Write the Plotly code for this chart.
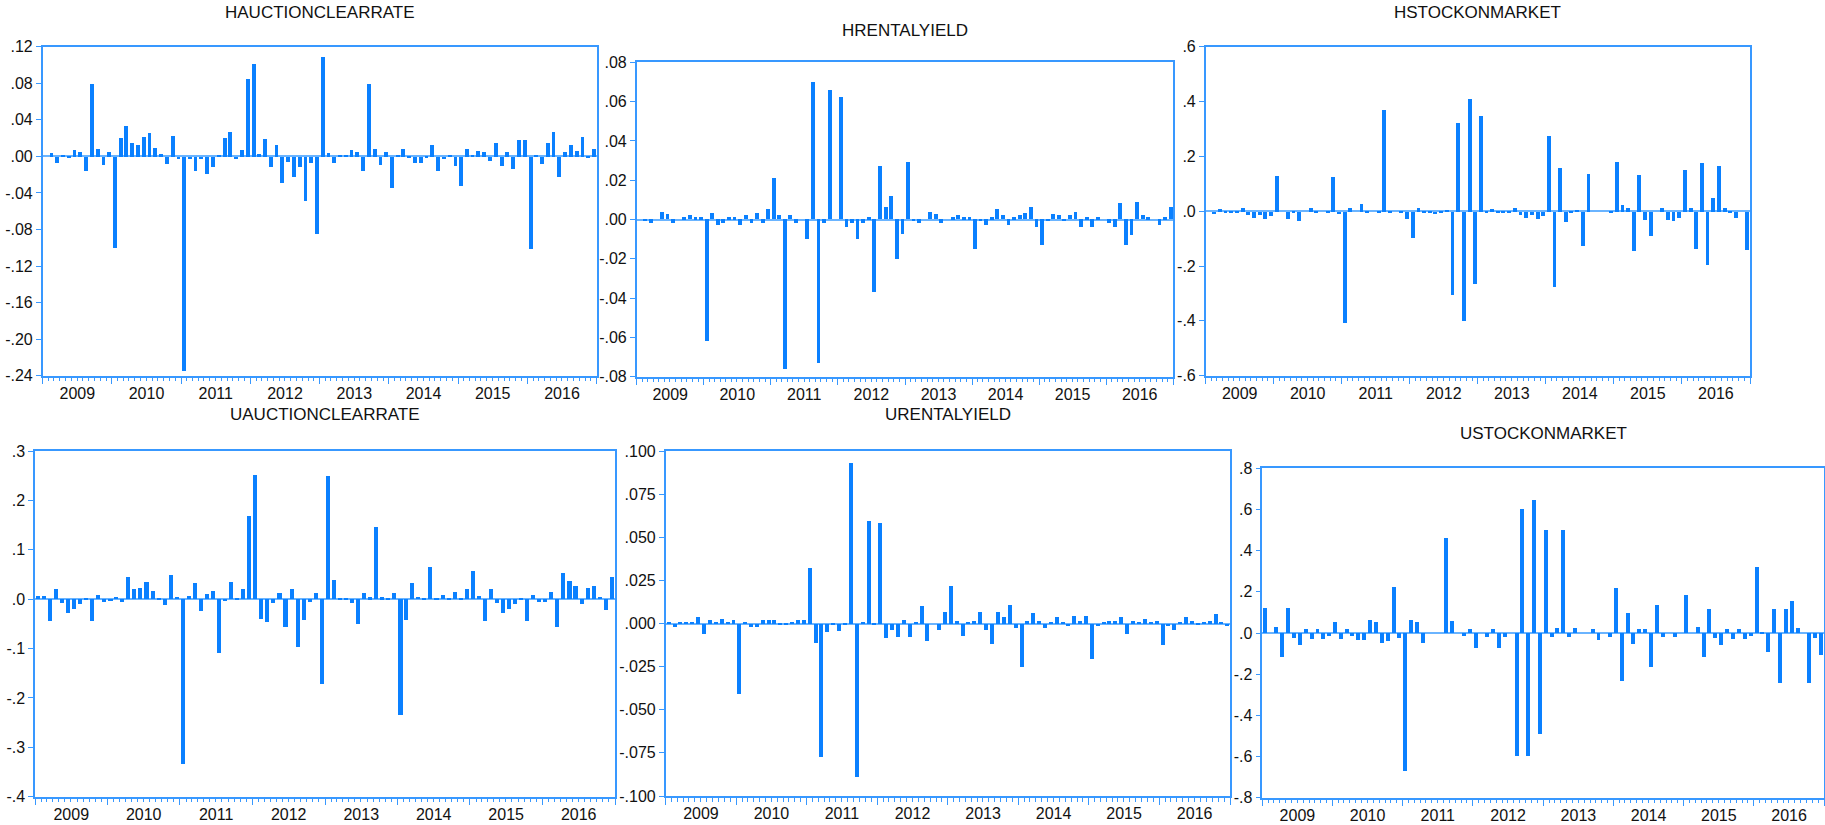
import pandas as pd
import plotly.graph_objects as go

# Monthly changes, Jan 2009 - Dec 2016 (None = no observation)
months = pd.date_range("2009-01-01", periods=96, freq="MS").strftime("%Y-%m-%d").tolist()

hauction = [None, 0.004, -0.007, 0.001, -0.001, 0.007, 0.005, -0.016, 0.079, 0.008, -0.009, 0.005,
            -0.100, 0.020, 0.034, 0.015, 0.013, 0.022, 0.026, 0.009, 0.003, -0.008, 0.023, -0.003,
            -0.235, -0.003, -0.016, -0.003, -0.019, -0.011, 0.002, 0.020, 0.027, -0.003, 0.007, 0.085,
            0.101, 0.003, 0.019, -0.011, 0.013, -0.029, -0.006, -0.022, -0.011, -0.048, -0.007, -0.085,
            0.109, 0.004, -0.007, 0.001, 0.001, 0.007, 0.005, -0.016, 0.079, 0.008, -0.009, 0.005,
            -0.034, 0.001, 0.008, -0.002, -0.007, -0.007, -0.002, 0.013, -0.016, -0.003, 0.001, -0.010,
            -0.032, 0.008, 0.001, 0.006, 0.005, -0.005, 0.015, -0.010, 0.005, -0.014, 0.018, 0.018,
            -0.101, 0.001, -0.008, 0.015, 0.027, -0.022, 0.005, 0.013, 0.006, 0.022, -0.002, 0.008]

hrental = [None, -0.001, -0.002, 0.0, 0.0035, 0.0025, -0.002, 0.0, 0.001, 0.002, 0.001, 0.001,
           -0.062, 0.003, -0.003, -0.002, 0.001, 0.001, -0.003, 0.002, -0.002, 0.003, -0.002, 0.005,
           0.021, 0.002, -0.076, 0.002, -0.002, 0.0, -0.010, 0.070, -0.073, -0.002, 0.066, 0.0,
           0.062, -0.004, -0.002, -0.010, -0.002, 0.001, -0.037, 0.027, 0.006, 0.012, -0.020, -0.0076,
           0.029, -0.001, -0.002, 0.0, 0.0035, 0.0025, -0.002, 0.0, 0.001, 0.002, 0.001, 0.001,
           -0.015, -0.001, -0.003, 0.001, 0.005, 0.002, -0.003, 0.001, 0.002, 0.003, 0.006, -0.004,
           -0.013, -0.001, 0.0025, 0.002, -0.001, 0.002, 0.0035, -0.004, 0.001, -0.004, 0.001, 0.0,
           -0.002, -0.004, 0.008, -0.013, -0.008, 0.009, 0.002, 0.001, 0.0, -0.003, 0.001, 0.006]

hstock = [None, -0.008, 0.010, -0.007, -0.004, -0.007, 0.011, -0.012, -0.022, -0.012, -0.028, -0.015,
          0.129, 0.0, -0.027, -0.007, -0.033, 0.0, 0.011, -0.007, 0.0, -0.007, 0.126, -0.010,
          -0.405, 0.011, 0.0, 0.028, -0.007, 0.0, -0.007, 0.370, -0.007, 0.0, -0.004, -0.027,
          -0.097, 0.012, -0.004, -0.004, -0.010, -0.004, 0.007, -0.305, 0.322, -0.399, 0.412, -0.263,
          0.348, -0.007, 0.010, -0.007, -0.004, -0.007, 0.011, -0.012, -0.022, -0.012, -0.028, -0.015,
          0.275, -0.276, 0.158, -0.040, -0.002, 0.006, -0.125, 0.136, 0.0, 0.0, 0.0, -0.006,
          0.180, 0.022, 0.012, -0.145, 0.133, -0.032, -0.088, 0.0, 0.012, -0.032, -0.033, -0.023,
          0.150, 0.013, -0.137, 0.177, -0.194, 0.049, 0.165, 0.012, -0.004, -0.022, 0.0, -0.140]

uauction = [0.007, 0.007, -0.045, 0.020, -0.008, -0.028, -0.019, -0.009, 0.001, -0.045, 0.008, -0.005,
            -0.003, 0.005, -0.005, 0.045, 0.020, 0.022, 0.034, 0.016, 0.001, -0.011, 0.049, 0.005,
            -0.334, 0.007, 0.033, -0.023, 0.010, 0.017, -0.109, -0.003, 0.034, 0.001, 0.021, 0.169,
            0.252, -0.041, -0.046, -0.007, 0.012, -0.057, 0.021, -0.096, -0.043, -0.006, 0.012, -0.172,
            0.250, 0.038, 0.001, 0.001, -0.007, -0.051, 0.013, 0.004, 0.147, 0.004, 0.003, 0.012,
            -0.235, -0.043, 0.032, 0.005, 0.001, 0.066, 0.001, 0.009, 0.003, 0.015, 0.001, 0.021,
            0.057, 0.007, -0.045, 0.021, -0.008, -0.028, -0.019, -0.009, 0.001, -0.045, 0.009, -0.005,
            -0.005, 0.015, -0.057, 0.053, 0.036, 0.027, -0.009, 0.022, 0.026, 0.005, -0.022, 0.045]

urental = [0.001, -0.002, 0.0005, 0.001, 0.001, 0.0035, -0.006, 0.002, 0.0005, 0.0027, 0.0005, 0.002,
           -0.041, 0.001, -0.002, -0.002, 0.002, 0.002, 0.002, -0.001, -0.001, 0.001, 0.002, 0.002,
           0.032, -0.0115, -0.0775, -0.005, -0.001, -0.0045, -0.001, 0.093, -0.0887, 0.001, 0.0597, -0.001,
           0.058, -0.0085, -0.0037, -0.008, 0.002, -0.008, 0.001, 0.010, -0.010, 0.0, -0.0037, 0.0064,
           0.022, 0.0017, -0.0075, 0.0008, 0.0015, 0.0068, -0.0037, -0.012, 0.0068, 0.0037, 0.0108, -0.0027,
           -0.0255, 0.0017, 0.0062, 0.0017, -0.0027, 0.001, 0.0037, 0.001, -0.0017, 0.0044, 0.0017, 0.0044,
           -0.0203, -0.0017, 0.001, 0.0017, 0.0017, 0.0037, -0.0062, 0.0017, 0.001, 0.0027, 0.001, 0.0017,
           -0.0124, -0.0017, -0.0037, 0.001, 0.0037, 0.0017, -0.001, 0.001, 0.0017, 0.0054, 0.001, -0.0017]

ustock = [0.118, 0.0, 0.029, -0.117, 0.118, -0.028, -0.058, 0.018, -0.031, 0.019, -0.032, -0.016,
          0.052, -0.031, 0.018, -0.016, -0.034, -0.034, 0.060, 0.053, -0.052, -0.039, 0.223, -0.026,
          -0.672, 0.060, 0.053, -0.052, 0.0, 0.0, 0.0, 0.460, 0.055, 0.0, -0.016, 0.019,
          -0.074, 0.0, -0.023, 0.019, -0.074, -0.023, 0.0, -0.600, 0.602, -0.600, 0.645, -0.494,
          0.497, -0.021, 0.023, 0.497, -0.021, 0.023, 0.0, 0.0, 0.019, -0.036, 0.0, -0.021,
          0.215, -0.235, 0.094, -0.053, 0.019, 0.019, -0.167, 0.133, -0.021, 0.0, -0.021, 0.0,
          0.185, 0.0, 0.029, -0.117, 0.117, -0.028, -0.058, 0.018, -0.031, 0.018, -0.032, -0.016,
          0.319, -0.008, -0.096, 0.113, -0.246, 0.117, 0.152, 0.024, 0.0, -0.243, -0.028, -0.110]

titles = ["HAUCTIONCLEARRATE", "HRENTALYIELD", "HSTOCKONMARKET",
          "UAUCTIONCLEARRATE", "URENTALYIELD", "USTOCKONMARKET"]

# y-axis ticks and their labels, top to bottom
yticks_hauction = [0.12, 0.08, 0.04, 0.0, -0.04, -0.08, -0.12, -0.16, -0.20, -0.24]
ylabels_hauction = [".12", ".08", ".04", ".00", "-.04", "-.08", "-.12", "-.16", "-.20", "-.24"]
yticks_hrental = [0.08, 0.06, 0.04, 0.02, 0.0, -0.02, -0.04, -0.06, -0.08]
ylabels_hrental = [".08", ".06", ".04", ".02", ".00", "-.02", "-.04", "-.06", "-.08"]
yticks_hstock = [0.6, 0.4, 0.2, 0.0, -0.2, -0.4, -0.6]
ylabels_hstock = [".6", ".4", ".2", ".0", "-.2", "-.4", "-.6"]
yticks_uauction = [0.3, 0.2, 0.1, 0.0, -0.1, -0.2, -0.3, -0.4]
ylabels_uauction = [".3", ".2", ".1", ".0", "-.1", "-.2", "-.3", "-.4"]
yticks_urental = [0.100, 0.075, 0.050, 0.025, 0.0, -0.025, -0.050, -0.075, -0.100]
ylabels_urental = [".100", ".075", ".050", ".025", ".000", "-.025", "-.050", "-.075", "-.100"]
yticks_ustock = [0.8, 0.6, 0.4, 0.2, 0.0, -0.2, -0.4, -0.6, -0.8]
ylabels_ustock = [".8", ".6", ".4", ".2", ".0", "-.2", "-.4", "-.6", "-.8"]

W, H = 1825, 825
BAR = "#0A80FF"
LINE = "#3898FF"
ZERO = "#6AB4FF"
FONT = "Liberation Sans, Arial, sans-serif"

# plot-box pixel rectangles (left, top, right, bottom) and title centres
panels = [
    dict(y=hauction, ticks=yticks_hauction, labels=ylabels_hauction, box=(42.7, 46.7, 596.7, 375.7), title_xy=(319.7, 12.5)),
    dict(y=hrental, ticks=yticks_hrental, labels=ylabels_hrental, box=(636.7, 62.3, 1173.3, 376.7), title_xy=(905.0, 30.0)),
    dict(y=hstock, ticks=yticks_hstock, labels=ylabels_hstock, box=(1205.7, 46.7, 1750.0, 375.7), title_xy=(1477.9, 12.5)),
    dict(y=uauction, ticks=yticks_uauction, labels=ylabels_uauction, box=(35.0, 451.0, 615.0, 796.7), title_xy=(325.0, 414.5)),
    dict(y=urental, ticks=yticks_urental, labels=ylabels_urental, box=(665.7, 451.0, 1230.0, 796.0), title_xy=(947.9, 414.7)),
    dict(y=ustock, ticks=yticks_ustock, labels=ylabels_ustock, box=(1262.3, 468.3, 1824.3, 797.7), title_xy=(1543.3, 433.4)),
]

bar_width_ms = 0.68 * 30.44 * 86400000

fig = go.Figure()
layout = dict(width=W, height=H, margin=dict(l=0, r=0, t=0, b=0, pad=0), autosize=False,
              paper_bgcolor="white", plot_bgcolor="white", showlegend=False,
              bargap=0, annotations=[])

for k, p in enumerate(panels):
    n = "" if k == 0 else str(k + 1)
    left, top, right, bottom = p["box"]
    fig.add_trace(go.Bar(
        x=months, y=p["y"], xaxis="x" + n, yaxis="y" + n,
        xperiod="M1", xperiodalignment="middle", width=bar_width_ms,
        marker=dict(color=BAR, line=dict(width=0)), hoverinfo="x+y",
    ))
    layout["xaxis" + n] = dict(
        domain=[left / W, right / W], anchor="y" + n, type="date",
        range=["2009-01-01", "2017-01-01"], tick0="2009-01-01", dtick="M12",
        tickformat="%Y", ticklabelmode="period", ticklabelstandoff=-5,
        ticks="outside", ticklen=7, tickwidth=1, tickcolor=LINE,
        minor=dict(dtick="M1", tick0="2009-01-01", ticks="outside", ticklen=4,
                   tickwidth=1, tickcolor=LINE, showgrid=False),
        showline=True, linecolor=LINE, linewidth=1.5, mirror=True,
        showgrid=False, zeroline=False, automargin=False,
        tickfont=dict(family=FONT, size=16, color="#111111"),
    )
    ticks = p["ticks"]
    layout["yaxis" + n] = dict(
        domain=[1 - bottom / H, 1 - top / H], anchor="x" + n,
        range=[min(ticks), max(ticks)], tickmode="array",
        tickvals=ticks, ticktext=p["labels"],
        ticks="outside", ticklen=5, tickwidth=1, tickcolor=LINE,
        showline=True, linecolor=LINE, linewidth=1.5, mirror=True,
        showgrid=False, zeroline=True, zerolinecolor=ZERO, zerolinewidth=1.5,
        automargin=False,
        tickfont=dict(family=FONT, size=16, color="#111111"),
    )
    tx, ty = p["title_xy"]
    layout["annotations"].append(dict(
        text=titles[k], x=tx / W, y=1 - ty / H, xref="paper", yref="paper",
        xanchor="center", yanchor="middle", showarrow=False,
        font=dict(family=FONT, size=17, color="#111111"),
    ))

fig.update_layout(**layout)

# let the figure fill the page exactly (no default body margin)
page_css = ("document.body.style.margin='0';document.body.style.padding='0';"
            "document.documentElement.style.overflow='hidden';")
fig.write_html("out.html", post_script=page_css)
